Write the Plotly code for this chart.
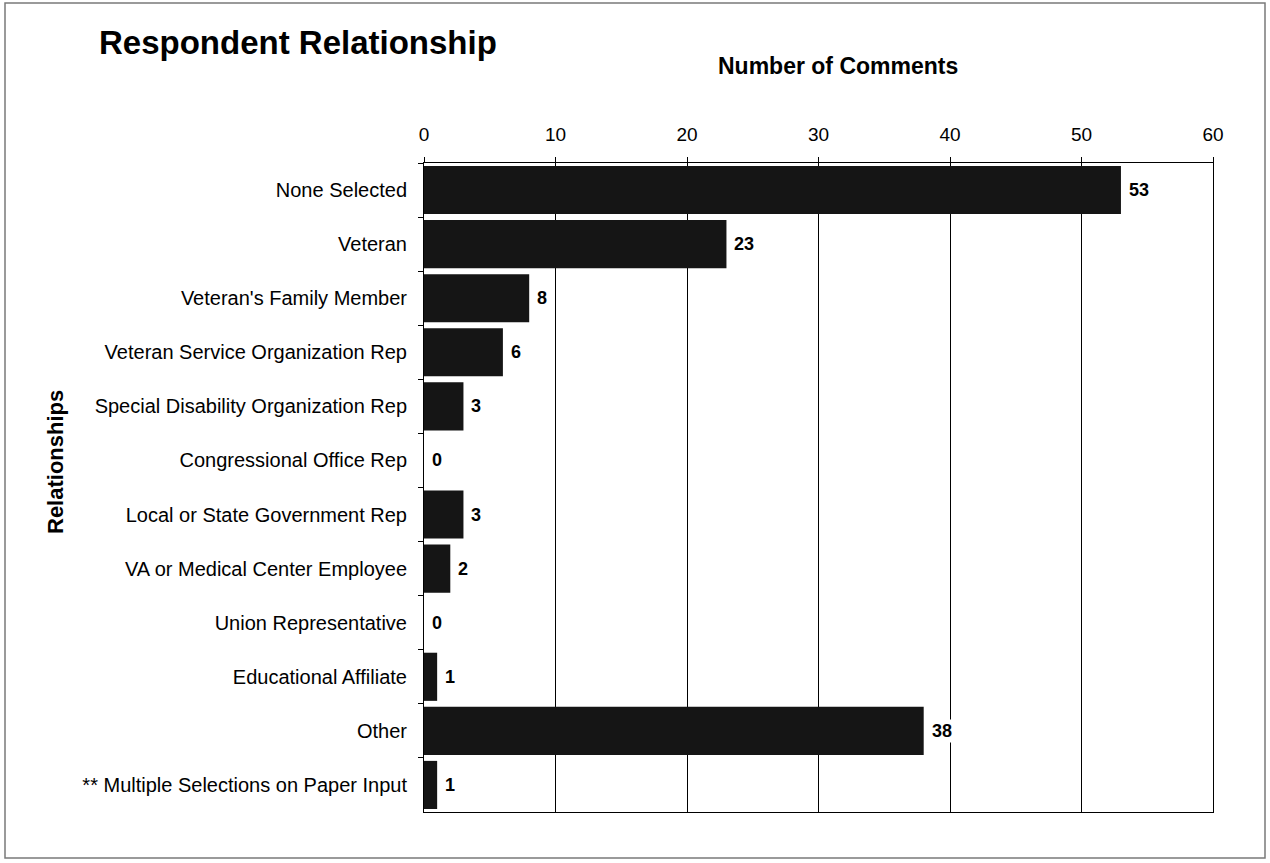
import plotly.graph_objects as go

categories = [
    "None Selected",
    "Veteran",
    "Veteran's Family Member",
    "Veteran Service Organization Rep",
    "Special Disability Organization Rep",
    "Congressional Office Rep",
    "Local or State Government Rep",
    "VA or Medical Center Employee",
    "Union Representative",
    "Educational Affiliate",
    "Other",
    "** Multiple Selections on Paper Input",
]
counts = [53, 23, 8, 6, 3, 0, 3, 2, 0, 1, 38, 1]
x_ticks = [0, 10, 20, 30, 40, 50, 60]

FONT = "Liberation Sans, Arial, sans-serif"

L, R, T, B = 424, 1213, 163, 812
PW, PH = R - L, B - T


def px(x):
    return (x - L) / PW


def py(y):
    return 1 - (y - T) / PH


fig = go.Figure()
fig.add_trace(go.Bar(
    y=categories, x=counts, orientation="h",
    marker=dict(color="#151515", line=dict(width=0)),
    hoverinfo="x+y",
))

annotations = []
for c, v in zip(categories, counts):
    annotations.append(dict(
        x=v, y=c, xref="x", yref="y", text="<b>%d</b>" % v,
        showarrow=False, xanchor="left", xshift=6,
        font=dict(family=FONT, size=18, color="black"),
        bgcolor="white", borderpad=1,
    ))

annotations += [
    dict(text="<b>Respondent Relationship</b>", xref="paper", yref="paper",
         x=px(97), y=py(42), xanchor="left", yanchor="middle",
         showarrow=False, font=dict(family=FONT, size=33, color="black")),
    dict(text="<b>Number of Comments</b>", xref="paper", yref="paper",
         x=px(838), y=py(66), xanchor="center", yanchor="middle",
         showarrow=False, font=dict(family=FONT, size=23, color="black")),
    dict(text="<b>Relationships</b>", xref="paper", yref="paper",
         x=px(55), y=py(462), xanchor="center", yanchor="middle",
         textangle=-90, showarrow=False, font=dict(family=FONT, size=22, color="black")),
]

fig.update_layout(
    width=1270, height=863,
    margin=dict(l=L, r=1270 - R, t=T, b=863 - B),
    paper_bgcolor="white", plot_bgcolor="white",
    showlegend=False,
    bargap=0.11,
    font=dict(family=FONT, color="black"),
    annotations=annotations,
    shapes=[dict(type="rect", xref="paper", yref="paper",
                 x0=px(5), x1=px(1265), y0=py(858), y1=py(3),
                 line=dict(color="#7a7a7a", width=1.5), layer="below")],
)
fig.update_xaxes(
    side="top", range=[0, 60], tickvals=x_ticks, ticktext=[str(t) for t in x_ticks],
    showgrid=True, gridcolor="black", gridwidth=1,
    showline=True, linecolor="black", linewidth=1, mirror=True,
    ticks="outside", ticklen=5, tickcolor="black",
    tickfont=dict(family=FONT, size=19, color="black"),
    ticklabelstandoff=8,
    zeroline=False, fixedrange=True,
)
fig.update_yaxes(
    autorange="reversed", categoryorder="array", categoryarray=categories,
    showline=True, linecolor="black", linewidth=1, mirror=True,
    ticks="outside", ticklen=5, tickcolor="black", tickson="boundaries",
    tickfont=dict(family=FONT, size=20, color="black"),
    ticklabelstandoff=12, fixedrange=True,
)

fig.write_html("out.html", post_script="document.body.style.margin='0';",
               config={"displayModeBar": False})
